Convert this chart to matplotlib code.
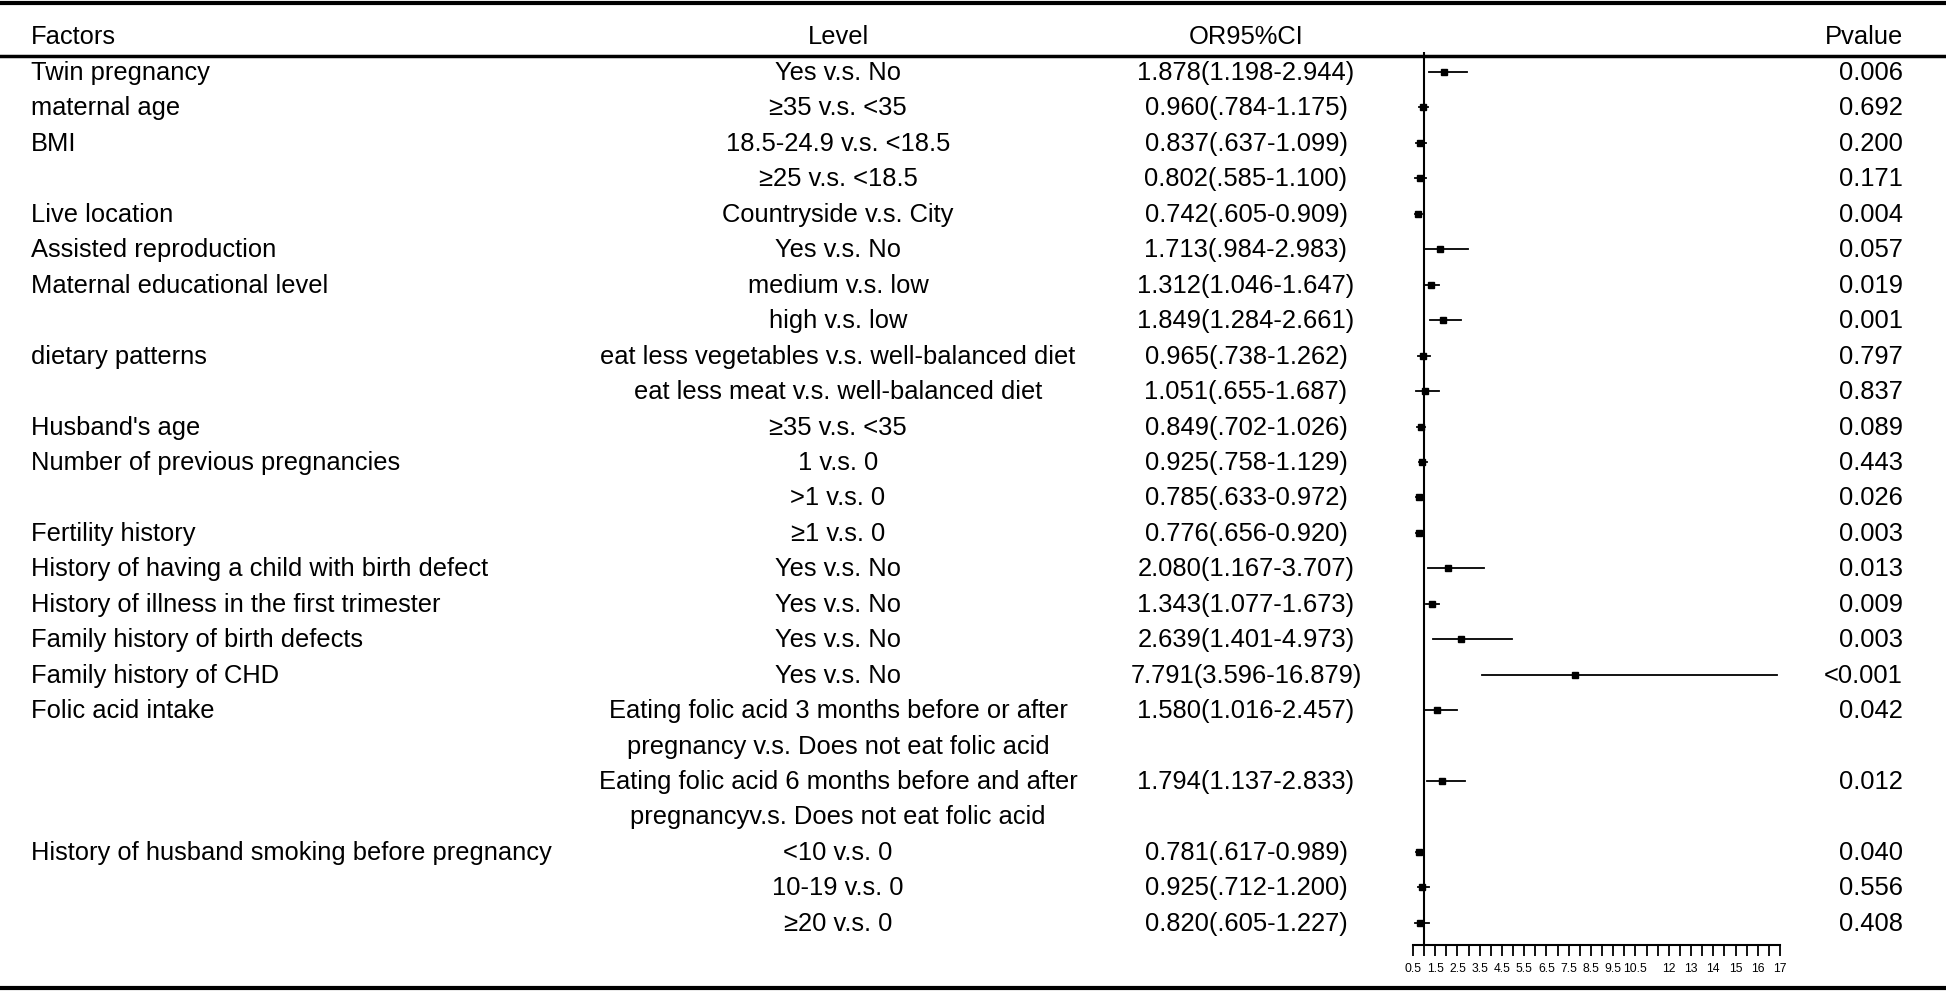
import matplotlib
matplotlib.use("Agg")
import matplotlib.pyplot as plt
from matplotlib.transforms import blended_transform_factory

plt.rcParams['font.family'] = ['Liberation Sans', 'DejaVu Sans']

# Table data
factors = ["Twin pregnancy", "maternal age", "BMI", "", "Live location",
           "Assisted reproduction", "Maternal educational level", "",
           "dietary patterns", "", "Husband's age", "Number of previous pregnancies", "",
           "Fertility history", "History of having a child with birth defect",
           "History of illness in the first trimester", "Family history of birth defects",
           "Family history of CHD", "Folic acid intake", "",
           "History of husband smoking before pregnancy", "", ""]
levels = ["Yes v.s. No", "\u226535 v.s. <35", "18.5-24.9 v.s. <18.5", "\u226525 v.s. <18.5",
          "Countryside v.s. City", "Yes v.s. No", "medium v.s. low", "high v.s. low",
          "eat less vegetables v.s. well-balanced diet", "eat less meat v.s. well-balanced diet",
          "\u226535 v.s. <35", "1 v.s. 0", ">1 v.s. 0", "\u22651 v.s. 0",
          "Yes v.s. No", "Yes v.s. No", "Yes v.s. No", "Yes v.s. No",
          "Eating folic acid 3 months before or after\npregnancy v.s. Does not eat folic acid",
          "Eating folic acid 6 months before and after\npregnancyv.s. Does not eat folic acid",
          "<10 v.s. 0", "10-19 v.s. 0", "\u226520 v.s. 0"]
odds = [1.878, 0.960, 0.837, 0.802, 0.742, 1.713, 1.312, 1.849, 0.965, 1.051, 0.849,
        0.925, 0.785, 0.776, 2.080, 1.343, 2.639, 7.791, 1.580, 1.794, 0.781, 0.925, 0.820]
ci_low = [1.198, 0.784, 0.637, 0.585, 0.605, 0.984, 1.046, 1.284, 0.738, 0.655, 0.702,
          0.758, 0.633, 0.656, 1.167, 1.077, 1.401, 3.596, 1.016, 1.137, 0.617, 0.712, 0.605]
ci_high = [2.944, 1.175, 1.099, 1.100, 0.909, 2.983, 1.647, 2.661, 1.262, 1.687, 1.026,
           1.129, 0.972, 0.920, 3.707, 1.673, 4.973, 16.879, 2.457, 2.833, 0.989, 1.200, 1.227]
ci_text = ["1.878(1.198-2.944)", "0.960(.784-1.175)", "0.837(.637-1.099)", "0.802(.585-1.100)",
           "0.742(.605-0.909)", "1.713(.984-2.983)", "1.312(1.046-1.647)", "1.849(1.284-2.661)",
           "0.965(.738-1.262)", "1.051(.655-1.687)", "0.849(.702-1.026)", "0.925(.758-1.129)",
           "0.785(.633-0.972)", "0.776(.656-0.920)", "2.080(1.167-3.707)", "1.343(1.077-1.673)",
           "2.639(1.401-4.973)", "7.791(3.596-16.879)", "1.580(1.016-2.457)", "1.794(1.137-2.833)",
           "0.781(.617-0.989)", "0.925(.712-1.200)", "0.820(.605-1.227)"]
pvalues = ["0.006", "0.692", "0.200", "0.171", "0.004", "0.057", "0.019", "0.001", "0.797",
           "0.837", "0.089", "0.443", "0.026", "0.003", "0.013", "0.009", "0.003", "<0.001",
           "0.042", "0.012", "0.040", "0.556", "0.408"]

tick_pos = [0.5 + 0.5 * i for i in range(34)]
tick_labels = ["0.5", "1.5", "2.5", "3.5", "4.5", "5.5", "6.5", "7.5", "8.5", "9.5", "10.5",
               "12", "13", "14", "15", "16", "17"]
tick_label_pos = [0.5, 1.5, 2.5, 3.5, 4.5, 5.5, 6.5, 7.5, 8.5, 9.5, 10.5, 12, 13, 14, 15, 16, 17]

W, H = 1946, 995
fig = plt.figure(figsize=(W / 100, H / 100), dpi=100)

# forest axes placed in pixel terms
x0, x1 = 1413, 1780
top, bot = 53, 946
ax = fig.add_axes([x0 / W, 1 - bot / H, (x1 - x0) / W, (bot - top) / H])
row0, step = 73, 35.45
ax.set_xlim(0.5, 17)
ax.set_ylim((bot - row0) / step, (top - row0) / step)

# row positions (text lines)
rows = []
y = 0
for lv in levels:
    rows.append(y)
    y += lv.count("\n") + 1

fs = 18.4
col_factor, col_level, col_or, col_p = 31, 838, 1246, 1903
tr = blended_transform_factory(fig.transFigure, ax.transData)
for i, yy in enumerate(rows):
    ax.text(col_factor / W, yy, factors[i], transform=tr, ha="left", va="center", fontsize=fs, clip_on=False)
    for k, line in enumerate(levels[i].split("\n")):
        ax.text(col_level / W, yy + k, line, transform=tr, ha="center", va="center", fontsize=fs, clip_on=False)
    ax.text(col_or / W, yy, ci_text[i], transform=tr, ha="center", va="center", fontsize=fs, clip_on=False)
    ax.text(col_p / W, yy, pvalues[i], transform=tr, ha="right", va="center", fontsize=fs, clip_on=False)
    ax.plot([ci_low[i], ci_high[i]], [yy, yy], color="black", lw=1.3, clip_on=False)
    ax.plot(odds[i], yy, marker="s", color="black", ms=4.2, clip_on=False)

# headers
hy = 1 - 37 / H
fig.text(col_factor / W, hy, "Factors", ha="left", va="center", fontsize=fs)
fig.text(col_level / W, hy, "Level", ha="center", va="center", fontsize=fs)
fig.text(col_or / W, hy, "OR95%CI", ha="center", va="center", fontsize=fs)
fig.text(col_p / W, hy, "Pvalue", ha="right", va="center", fontsize=fs)

# reference line at OR = 1
ax.axvline(1, color="black", lw=1.5)

for s in ["top", "right", "left"]:
    ax.spines[s].set_visible(False)
ax.spines["bottom"].set_linewidth(1.5)
ax.set_yticks([])
ax.set_xticks(tick_pos)
ax.set_xticklabels([tick_labels[tick_label_pos.index(t)] if t in tick_label_pos else "" for t in tick_pos])
ax.tick_params(axis="x", direction="out", length=8, width=1.3, labelsize=8.7, pad=4)

# horizontal rules
for yp, lw in [(4, 3), (57, 2.5), (989, 3)]:
    fig.add_artist(plt.Line2D([0, 1], [1 - yp / H, 1 - yp / H], color="black", lw=lw,
                              transform=fig.transFigure))

fig.savefig("out.png", dpi=100)
